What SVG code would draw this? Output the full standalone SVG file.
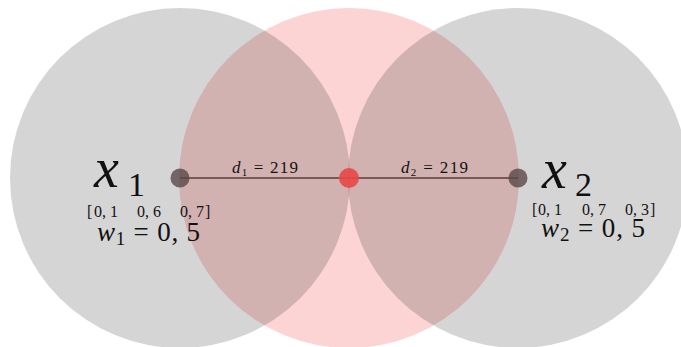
<svg xmlns="http://www.w3.org/2000/svg" width="681" height="347" viewBox="0 0 681 347">
<style>
text{font-family:"Liberation Serif","Times New Roman",serif;fill:#111}
.i{font-style:italic}
.gray{fill:#000;fill-opacity:0.165}
.pink{fill:#fcd4d4}
.dot{fill:#5a4848;fill-opacity:0.8}
</style>
<rect width="681" height="347" fill="#fff"/>
<g id="mid-region"><circle class="pink" cx="349" cy="178" r="170"/></g>
<g id="node-x1-region"><circle class="gray" cx="180" cy="178" r="170"/></g>
<g id="node-x2-region"><circle class="gray" cx="518" cy="178" r="170"/></g>
<g id="connectors">
<line x1="180" y1="178" x2="518" y2="178" stroke="#7a5858" stroke-width="2"/>
</g>
<g id="node-x1">
<circle class="dot" cx="180" cy="178" r="9.5"/>
<text x="94" y="187"><tspan class="i" font-size="56">x</tspan><tspan font-size="34" x="128" dy="9">1</tspan></text>
<text y="217" font-size="16"><tspan x="87">[</tspan><tspan x="94">0, 1</tspan><tspan x="137">0, 6</tspan><tspan x="180">0, 7</tspan><tspan x="205">]</tspan></text>
<text x="97" y="241" font-size="27" textLength="103" lengthAdjust="spacing"><tspan class="i">w</tspan><tspan font-size="19" dy="4">1</tspan><tspan dy="-4"> = 0, 5</tspan></text>
</g>
<g id="node-center">
<circle cx="349" cy="178" r="10" fill="#e84848" fill-opacity="0.9"/>
</g>
<g id="node-x2">
<circle class="dot" cx="518" cy="178" r="9.5"/>
<text x="542" y="188"><tspan class="i" font-size="56">x</tspan><tspan font-size="34" x="575" dy="8">2</tspan></text>
<text y="215" font-size="16"><tspan x="532">[</tspan><tspan x="538">0, 1</tspan><tspan x="582">0, 7</tspan><tspan x="625">0, 3</tspan><tspan x="650">]</tspan></text>
<text x="541" y="237" font-size="27" textLength="104" lengthAdjust="spacing"><tspan class="i">w</tspan><tspan font-size="19" dy="4">2</tspan><tspan dy="-4"> = 0, 5</tspan></text>
</g>
<g id="labels">
<text x="232" y="173" font-size="17" textLength="66" lengthAdjust="spacing"><tspan class="i">d</tspan><tspan font-size="11" dy="3">1</tspan><tspan dy="-3"> = 219</tspan></text>
<text x="401" y="173" font-size="17" textLength="67" lengthAdjust="spacing"><tspan class="i">d</tspan><tspan font-size="11" dy="3">2</tspan><tspan dy="-3"> = 219</tspan></text>
</g>
</svg>
